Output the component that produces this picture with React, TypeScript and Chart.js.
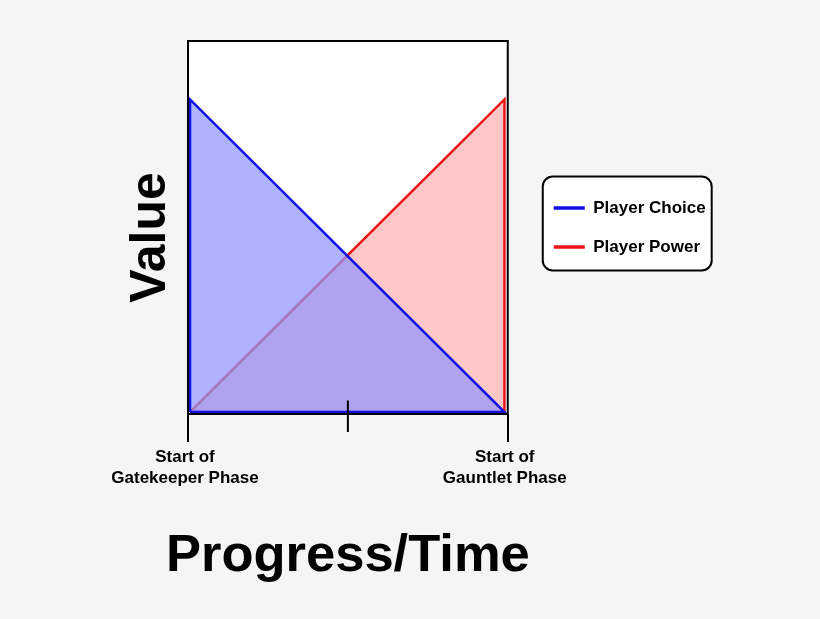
import React, { useEffect, useRef } from 'react';
import { Chart, registerables } from 'chart.js';

Chart.register(...registerables);

// ---- data ----
const SERIES_NAMES = ['Player Choice', 'Player Power'];
const CHOICE_X = [0, 0, 1, 0];
const CHOICE_Y = [0, 1, 0, 0];
const POWER_X = [0, 1, 1, 0];
const POWER_Y = [0, 1, 0, 0];
const X_TICK_LABELS: (string | string[])[] = [
  ['Start of', 'Gatekeeper Phase'],
  '',
  ['Start of', 'Gauntlet Phase'],
];
const X_TITLE = 'Progress/Time';
const Y_TITLE = 'Value';
const X_RANGE = [-0.0064, 1.0105];
const Y_RANGE = [-0.0064, 1.187];

const FONT = "'Liberation Sans', Arial, Helvetica, sans-serif";

const decorPlugin = {
  id: 'decor',
  afterLayout(chart: any) {
    const lg = chart.legend;
    const a = chart.chartArea;
    if (lg) {
      lg.left += 24;
      lg.right = lg.left + 200;
      lg.width = 200;
      lg.top = a.top;
      lg.bottom = a.bottom;
      lg.height = a.bottom - a.top;
    }
  },
  beforeDraw(chart: any) {
    const { ctx, chartArea: a } = chart;
    ctx.save();
    ctx.fillStyle = '#ffffff';
    ctx.fillRect(a.left, a.top, a.right - a.left, a.bottom - a.top);
    const hb = chart.legend && chart.legend.legendHitBoxes;
    if (hb && hb.length) {
      const first = hb[0];
      const last = hb[hb.length - 1];
      ctx.font = `bold 17px ${FONT}`;
      const textW = Math.max(...chart.legend.legendItems.map((it: any) => ctx.measureText(it.text).width));
      const l = first.left - 11;
      const t = first.top - 23;
      const r = first.left + 31 + 8.5 + textW + 6;
      const b = last.top + last.height + 15;
      ctx.beginPath();
      ctx.roundRect(l, t, r - l, b - t, 10);
      ctx.fillStyle = '#ffffff';
      ctx.fill();
      ctx.lineWidth = 2;
      ctx.strokeStyle = '#000000';
      ctx.stroke();
    }
    ctx.restore();
  },
  afterDatasetsDraw(chart: any) {
    const { ctx, chartArea: a } = chart;
    ctx.save();
    ctx.lineWidth = 2;
    ctx.strokeStyle = '#000000';
    ctx.strokeRect(a.left, a.top, a.right - a.left, a.bottom - a.top);
    ctx.restore();
  },
  afterDraw(chart: any) {
    const { ctx, chartArea: a } = chart;
    const xs = chart.scales.x;
    ctx.save();
    // middle tick crossing the axis
    const mx = xs.getPixelForTick(1);
    ctx.beginPath();
    ctx.lineWidth = 2;
    ctx.strokeStyle = '#000000';
    ctx.moveTo(mx, a.bottom - 13.5);
    ctx.lineTo(mx, a.bottom + 18);
    ctx.stroke();
    // x axis title
    ctx.fillStyle = '#000000';
    ctx.font = `bold 52.5px ${FONT}`;
    ctx.textAlign = 'center';
    ctx.textBaseline = 'alphabetic';
    ctx.fillText(X_TITLE, (a.left + a.right) / 2, a.bottom + 157);
    // y axis title
    ctx.translate(a.left - 41, (a.top + a.bottom) / 2 + 10);
    ctx.rotate(-Math.PI / 2);
    ctx.font = `bold 50px ${FONT}`;
    ctx.fillText(Y_TITLE, 0, 18);
    ctx.restore();
  },
};

export default function App() {
  const canvasRef = useRef<HTMLCanvasElement | null>(null);

  useEffect(() => {
    document.body.style.margin = '0';
    const canvas = canvasRef.current;
    if (!canvas) return;
    Chart.defaults.font.family = FONT;

    const choicePts = CHOICE_X.map((x, i) => ({ x, y: CHOICE_Y[i] }));
    const powerPts = POWER_X.map((x, i) => ({ x, y: POWER_Y[i] }));

    const chart = new Chart(canvas, {
      type: 'scatter',
      data: {
        datasets: [
          {
            label: SERIES_NAMES[0],
            data: choicePts,
            showLine: true,
            fill: 'shape',
            borderColor: 'rgb(15,15,230)',
            backgroundColor: 'rgba(145,150,255,0.73)',
            borderWidth: 2.5,
            pointRadius: 0,
            pointHoverRadius: 0,
            tension: 0,
          },
          {
            label: SERIES_NAMES[1],
            data: powerPts,
            showLine: true,
            fill: 'shape',
            borderColor: 'rgb(235,20,20)',
            backgroundColor: 'rgba(255,0,0,0.22)',
            borderWidth: 2.5,
            pointRadius: 0,
            pointHoverRadius: 0,
            tension: 0,
          },
        ],
      },
      options: {
        animation: false,
        responsive: false,
        maintainAspectRatio: false,
        events: [],
        layout: { padding: { top: 41, right: 143, bottom: 0, left: 0 } },
        plugins: {
          tooltip: { enabled: false },
          title: { display: false },
          legend: {
            position: 'right',
            labels: {
              usePointStyle: true,
              pointStyle: 'line',
              pointStyleWidth: 31,
              padding: 22,
              color: '#000000',
              font: { size: 17, weight: 'bold', family: FONT },
              generateLabels: (c: any) =>
                (Chart.defaults.plugins.legend.labels.generateLabels as any)(c).map((l: any) => ({
                  ...l,
                  lineWidth: 3.5,
                  fillStyle: l.strokeStyle,
                })),
            },
          },
        },
        scales: {
          x: {
            type: 'linear',
            min: X_RANGE[0],
            max: X_RANGE[1],
            afterBuildTicks: (s: any) => {
              s.ticks = [
                { value: s.min },
                { value: (s.min + s.max) / 2 },
                { value: s.max },
              ];
            },
            afterFit: (s: any) => {
              s.height = 205;
            },
            grid: {
              display: true,
              drawOnChartArea: false,
              drawTicks: true,
              tickLength: 28,
              lineWidth: 2,
              tickWidth: 2,
              color: '#000000',
              tickColor: (ctx: any) => (ctx.index === 1 ? 'rgba(0,0,0,0)' : '#000000'),
            },
            border: { display: false },
            ticks: {
              autoSkip: false,
              maxRotation: 0,
              minRotation: 0,
              padding: 5,
              labelOffset: -3,
              color: '#000000',
              font: { size: 17, weight: 'bold', family: FONT, lineHeight: 1.22 },
              callback: (_v: any, i: number) => X_TICK_LABELS[i],
            },
            title: { display: false },
          },
          y: {
            type: 'linear',
            min: Y_RANGE[0],
            max: Y_RANGE[1],
            afterFit: (s: any) => {
              s.width = 188;
            },
            ticks: { display: false },
            grid: { display: false },
            border: { display: false },
          },
        },
      },
      plugins: [decorPlugin],
    } as any);

    return () => chart.destroy();
  }, []);

  return (
    <div style={{ width: 820, height: 619, background: '#f5f5f5' }}>
      <canvas ref={canvasRef} width={820} height={619} style={{ display: 'block' }} />
    </div>
  );
}
